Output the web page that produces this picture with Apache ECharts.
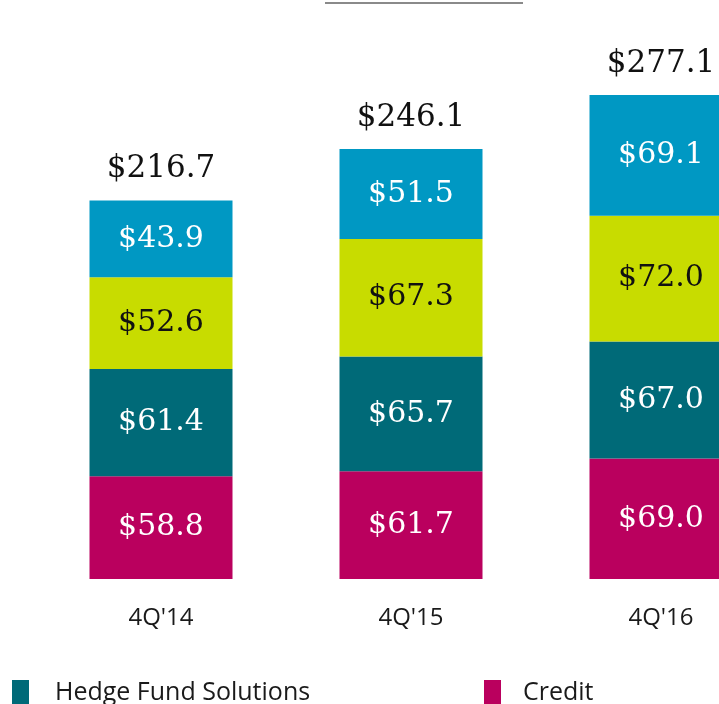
<!DOCTYPE html>
<html>
<head>
    <meta charset="utf-8">
    <title>Fee-Earning AUM</title>
    <script src="https://cdn.jsdelivr.net/npm/echarts@6/dist/echarts.min.js"></script>
    <style>
        html, body { margin: 0; padding: 0; background: #fff; }
        #main { width: 719px; height: 704px; }
    </style>
</head>
<body>
    <div id="main"></div>
    <script>
        // data, bottom segment first
        var quarters = ["4Q'14", "4Q'15", "4Q'16"];
        var credit = [58.8, 61.7, 69.0];
        var hedgeFund = [61.4, 65.7, 67.0];
        var realEstate = [52.6, 67.3, 72.0];
        var privateEquity = [43.9, 51.5, 69.1];
        var totals = [216.7, 246.1, 277.1];

        var serif = 'DejaVu Serif';
        var sans = 'Open Sans';

        function segment(name, data, color, textColor) {
            return {
                name: name,
                type: 'bar',
                stack: 'aum',
                barWidth: 143,
                data: data,
                itemStyle: { color: color },
                label: {
                    show: true,
                    position: 'inside',
                    color: textColor,
                    fontFamily: serif,
                    fontSize: 30,
                    formatter: function (p) { return '$' + p.value.toFixed(1); }
                },
                emphasis: { disabled: true }
            };
        }

        var chart = echarts.init(document.getElementById('main'));
        var option = {
            animation: false,
            // the third bar runs past the right edge, so let the grid go outside
            grid: { left: 36, width: 750, top: 55, height: 524, outerBoundsMode: 'none' },
            xAxis: {
                type: 'category',
                data: quarters,
                axisLine: { show: false },
                axisTick: { show: false },
                axisLabel: { color: '#1a1a1a', fontFamily: sans, fontSize: 24, margin: 27 }
            },
            yAxis: {
                type: 'value',
                min: 0,
                max: 300,
                show: false
            },
            legend: [
                {
                    data: ['Hedge Fund Solutions'],
                    left: 12, top: 680, padding: 0,
                    itemWidth: 17, itemHeight: 26, itemGap: 10,
                    icon: 'rect',
                    textStyle: { fontFamily: sans, fontSize: 25, color: '#1a1a1a', padding: [0, 0, 10, 21] }
                },
                {
                    data: ['Credit'],
                    left: 484, top: 680, padding: 0,
                    itemWidth: 17, itemHeight: 26,
                    icon: 'rect',
                    textStyle: { fontFamily: sans, fontSize: 25, color: '#1a1a1a', padding: [0, 0, 10, 17] }
                }
            ],
            graphic: [
                {
                    type: 'line',
                    shape: { x1: 325, y1: 3, x2: 523, y2: 3 },
                    style: { stroke: '#8a8a8a', lineWidth: 2 }
                }
            ],
            series: [
                segment('Credit', credit, '#BA005E', '#fff'),
                segment('Hedge Fund Solutions', hedgeFund, '#006A78', '#fff'),
                segment('Real Estate', realEstate, '#C8DC00', '#111'),
                segment('Private Equity', privateEquity, '#0098C3', '#fff'),
                {
                    name: 'Total',
                    type: 'bar',
                    stack: 'aum',
                    barWidth: 143,
                    data: totals.map(function () { return 0; }),
                    itemStyle: { color: 'transparent' },
                    label: {
                        show: true,
                        position: 'top',
                        distance: 16,
                        color: '#111',
                        fontFamily: serif,
                        fontSize: 31,
                        formatter: function (p) { return '$' + totals[p.dataIndex].toFixed(1); }
                    },
                    emphasis: { disabled: true }
                }
            ]
        };
        chart.setOption(option);
    </script>
</body>
</html>
